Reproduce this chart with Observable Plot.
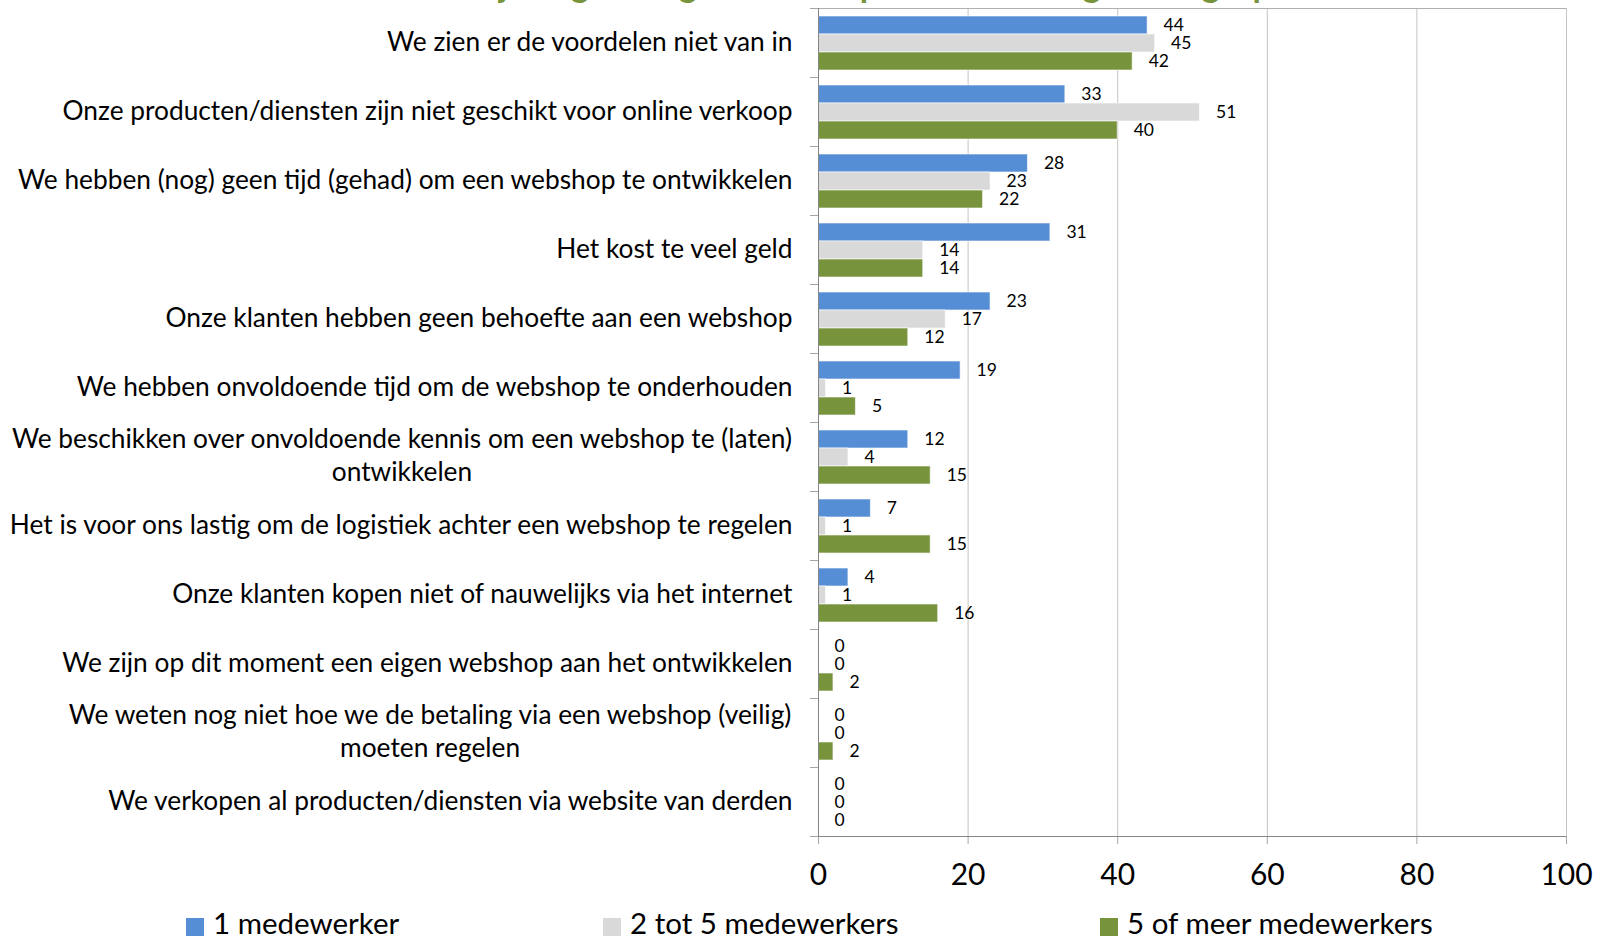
<!DOCTYPE html>
<html>
<head>
<meta charset="utf-8">
<script src="https://cdn.jsdelivr.net/npm/d3@7"></script>
<script src="https://cdn.jsdelivr.net/npm/@observablehq/plot@0.6"></script>
<style>
  html, body { margin: 0; padding: 0; background: white; overflow: hidden; }
  #wrap { position: relative; width: 1598px; height: 941px; font-family: Lato, "Open Sans", sans-serif; }
  #title { position: absolute; left: 0; width: 1480px; top: -33px; line-height: 34px; font-size: 34px; font-weight: bold; color: #77933c; text-align: center; white-space: nowrap; z-index: 2; }
  .leg { position: absolute; top: 908px; display: flex; align-items: flex-start; font-size: 29.5px; line-height: 30px; color: #000; white-space: nowrap; }
  .sw { width: 18px; height: 18px; margin-top: 10px; margin-right: 9px; }
  svg { display: block; }
</style>
</head>
<body>
<div id="wrap">
  <div id="title">Redenen waarom bedrijven geen eigen webshop hebben naar grootte gesplitst</div>
  <div id="chart"></div>
  <div id="legend"></div>
</div>
<script>
const categories = [
  "We zien er de voordelen niet van in",
  "Onze producten/diensten zijn niet geschikt voor online verkoop",
  "We hebben (nog) geen tijd (gehad) om een webshop te ontwikkelen",
  "Het kost te veel geld",
  "Onze klanten hebben geen behoefte aan een webshop",
  "We hebben onvoldoende tijd om de webshop te onderhouden",
  "We beschikken over onvoldoende kennis om een webshop te (laten)\nontwikkelen",
  "Het is voor ons lastig om de logistiek achter een webshop te regelen",
  "Onze klanten kopen niet of nauwelijks via het internet",
  "We zijn op dit moment een eigen webshop aan het ontwikkelen",
  "We weten nog niet hoe we de betaling via een webshop (veilig)\nmoeten regelen",
  "We verkopen al producten/diensten via website van derden"
];
const seriesNames = ["1 medewerker", "2 tot 5 medewerkers", "5 of meer medewerkers"];
const oneEmployee = [44, 33, 28, 31, 23, 19, 12, 7, 4, 0, 0, 0];
const twoToFive   = [45, 51, 23, 14, 17, 1, 4, 1, 1, 0, 0, 0];
const fivePlus    = [42, 40, 22, 14, 12, 5, 15, 15, 16, 2, 2, 0];
const xTicks = [0, 20, 40, 60, 80, 100];
const colors = ["#558ed5", "#d9d9d9", "#77933c"];

const seriesValues = [oneEmployee, twoToFive, fivePlus];
const rows = categories.flatMap((c, i) =>
  seriesValues.map((arr, j) => ({category: c, series: seriesNames[j], value: arr[i]})));

// font sizing by measurement
const ctx = document.createElement("canvas").getContext("2d");
function measure(t, size) { ctx.font = `${size}px Lato`; return ctx.measureText(t).width; }
const refLabel = "We hebben (nog) geen tijd (gehad) om een webshop te ontwikkelen";
const labelSize = Math.round(100 * 774 / measure(refLabel, 100) * 10) / 10;
const labelGap = 26;

const singleLabels = categories.filter(c => !c.includes("\n"));
const multiLabels = categories.filter(c => c.includes("\n"));

const multiMarks = multiLabels.map(l => {
  const w = Math.max(...l.split("\n").map(s => measure(s, labelSize)));
  return Plot.text([l], {
    fy: d => d, text: d => d, frameAnchor: "left", textAnchor: "middle",
    dx: -labelGap - w / 2, dy: -3, fontSize: labelSize, lineHeight: 33 / labelSize, fill: "#000"
  });
});

const plot = Plot.plot({
  width: 1598,
  height: 900,
  marginTop: 7,
  marginBottom: 64,
  marginLeft: 818,
  marginRight: 32,
  style: {fontFamily: "Lato, 'Open Sans', sans-serif", background: "white", overflow: "visible"},
  x: {domain: [0, 100]},
  y: {domain: seriesNames, paddingInner: 0, paddingOuter: 0.39, axis: null},
  fy: {domain: categories, padding: 0, axis: null},
  color: {domain: seriesNames, range: colors},
  marks: [
    Plot.ruleX(xTicks.slice(1), {stroke: "#c4c4c4", strokeWidth: 1}),
    Plot.barX(rows.filter(d => d.value > 0), {
      x: "value", y: "series", fy: "category", fill: "series",
      stroke: "#ffffff", strokeWidth: 1, strokeOpacity: 0.6
    }),
    Plot.text(rows, {
      x: "value", y: "series", fy: "category", text: d => String(d.value),
      textAnchor: "start", dx: 16, fontSize: 17.5, fill: "#000"
    }),
    Plot.text(singleLabels, {
      fy: d => d, text: d => d, frameAnchor: "left", textAnchor: "end",
      dx: -labelGap, fontSize: labelSize, fill: "#000"
    }),
    ...multiMarks,
    Plot.axisX({ticks: xTicks, tickSize: 8, tickPadding: 19, fontSize: 30, stroke: "#a6a6a6", fill: "#000", label: null, tickFormat: d => String(d)})
  ]
});

document.getElementById("chart").appendChild(plot);

// axis decorations derived from the scales
const xs = plot.scale("x");
const fys = plot.scale("fy");
const x0 = xs.apply(0), x100 = xs.apply(100);
const yTop = fys.apply(categories[0]);
const yBottom = fys.apply(categories[categories.length - 1]) + fys.bandwidth;
const svgSel = d3.select(plot);
const g = svgSel.append("g").attr("stroke-width", 1).attr("shape-rendering", "crispEdges");
g.append("line").attr("x1", x0).attr("x2", x100).attr("y1", yTop).attr("y2", yTop).attr("stroke", "#b0b0b0");
categories.forEach((c) => {
  const y = fys.apply(c);
  g.append("line").attr("x1", x0 - 8).attr("x2", x0).attr("y1", y).attr("y2", y).attr("stroke", "#a6a6a6");
});
g.append("line").attr("x1", x0 - 8).attr("x2", x0).attr("y1", yBottom).attr("y2", yBottom).attr("stroke", "#a6a6a6");
g.append("line").attr("x1", x0).attr("x2", x0).attr("y1", yTop).attr("y2", yBottom).attr("stroke", "#868686");
g.append("line").attr("x1", x0).attr("x2", x100).attr("y1", yBottom).attr("y2", yBottom).attr("stroke", "#868686");

// legend
const legendLefts = [186, 603, 1100];
const legend = document.getElementById("legend");
seriesNames.forEach((name, i) => {
  const item = document.createElement("div");
  item.className = "leg";
  item.style.left = legendLefts[i] + "px";
  item.innerHTML = `<span class="sw" style="background:${colors[i]}"></span><span>${name}</span>`;
  legend.appendChild(item);
});
</script>
</body>
</html>
